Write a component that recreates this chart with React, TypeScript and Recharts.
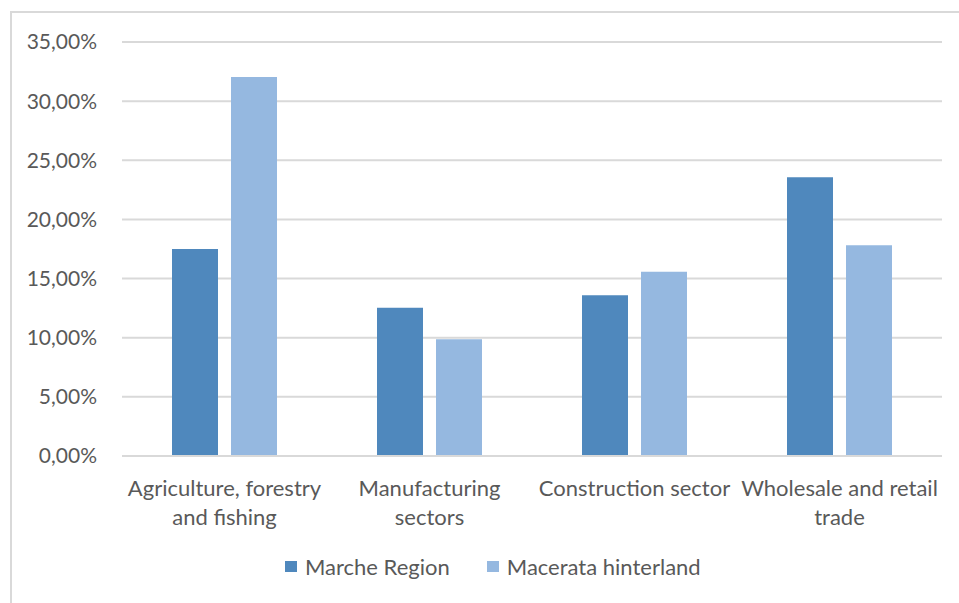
import { Bar, BarChart, CartesianGrid, Legend, XAxis, YAxis } from "recharts";

const categories = [
  "Agriculture, forestry\nand fishing",
  "Manufacturing\nsectors",
  "Construction sector",
  "Wholesale and retail\ntrade",
];
const marcheRegion = [17.5, 12.54, 13.58, 23.56];
const macerataHinterland = [32.04, 9.87, 15.58, 17.81];
const yTicks = [0, 5, 10, 15, 20, 25, 30, 35];

const FONT = "Lato, 'Open Sans', sans-serif";
const TEXT = "#595959";
const GRID = "#d9d9d9";
const DARK = "#4f88bd";
const LIGHT = "#95b8e0";

const data = categories.map((name, i) => ({
  name,
  marche: marcheRegion[i],
  macerata: macerataHinterland[i],
}));

const fmt = (v: number) => `${v.toFixed(2).replace(".", ",")}%`;

interface TickProps {
  x?: number;
  y?: number;
  payload?: { value: string };
}

function CategoryTick({ x = 0, y = 0, payload }: TickProps) {
  const lines = (payload?.value ?? "").split("\n");
  return (
    <text x={x} y={y} textAnchor="middle" fill={TEXT} fontSize={22} fontFamily={FONT}>
      {lines.map((l, i) => (
        <tspan key={i} x={x} dy={i === 0 ? 32 : 29}>
          {l}
        </tspan>
      ))}
    </text>
  );
}

function LegendContent() {
  const items = [
    { label: "Marche Region", color: DARK },
    { label: "Macerata hinterland", color: LIGHT },
  ];
  return (
    <div style={{ display: "flex", gap: 37, fontFamily: FONT, fontSize: 22, color: TEXT }}>
      {items.map((it) => (
        <div key={it.label} style={{ display: "flex", alignItems: "center", gap: 8 }}>
          <span style={{ width: 12, height: 11, background: it.color, display: "inline-block" }} />
          <span>{it.label}</span>
        </div>
      ))}
    </div>
  );
}

export default function App() {
  return (
    <div style={{ position: "absolute", left: 0, top: 0, width: 959, height: 603, background: "#fff" }}>
      <div
        style={{
          position: "absolute",
          left: 10,
          top: 11,
          width: 960,
          height: 600,
          borderLeft: `2px solid ${GRID}`,
          borderTop: `2px solid ${GRID}`,
        }}
      />
      <div style={{ position: "absolute", left: 0, top: 0 }}>
        <BarChart
          width={959}
          height={603}
          data={data}
          margin={{ top: 42, right: 17, left: 0, bottom: 21 }}
          barSize={46}
          barGap={13}
        >
          <CartesianGrid vertical={false} stroke={GRID} strokeWidth={2} />
          <XAxis
            dataKey="name"
            height={97}
            interval={0}
            axisLine={{ stroke: GRID, strokeWidth: 2 }}
            tickLine={false}
            tick={<CategoryTick />}
          />
          <YAxis
            width={122}
            domain={[0, 35]}
            ticks={yTicks}
            tickFormatter={fmt}
            axisLine={false}
            tickLine={false}
            tickMargin={19}
            tick={{ fill: TEXT, fontSize: 21, fontFamily: FONT }}
          />
          <Legend
            verticalAlign="bottom"
            content={<LegendContent />}
            wrapperStyle={{ left: 285, width: 460, height: 29 }}
          />
          <Bar dataKey="marche" name="Marche Region" fill={DARK} isAnimationActive={false} />
          <Bar dataKey="macerata" name="Macerata hinterland" fill={LIGHT} isAnimationActive={false} />
        </BarChart>
      </div>
    </div>
  );
}
